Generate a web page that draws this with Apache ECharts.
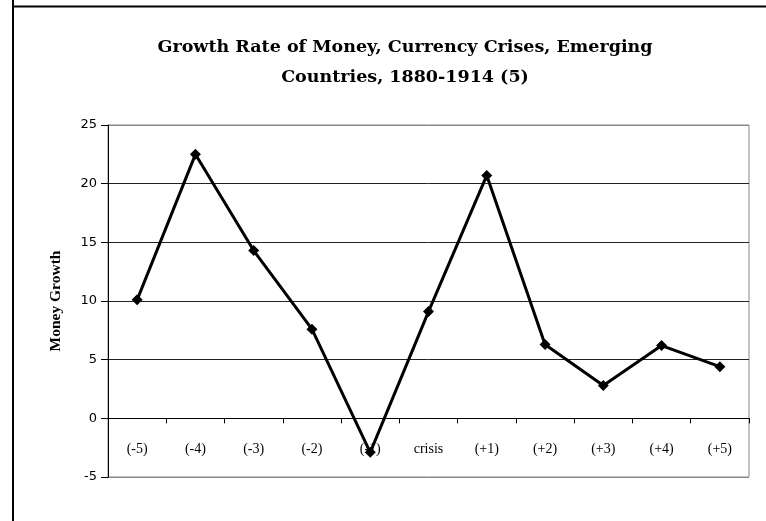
<!DOCTYPE html>
<html>
<head>
<meta charset="utf-8">
<script src="https://cdn.jsdelivr.net/npm/echarts@6/dist/echarts.min.js"></script>
<style>
  html, body { margin: 0; padding: 0; background: #fff; }
  #chart { width: 766px; height: 521px; }
</style>
</head>
<body>
<div id="chart"></div>
<script>
// 货币增长率：危机前后各 5 年
const CATEGORIES = ['(-5)', '(-4)', '(-3)', '(-2)', '(-1)', 'crisis', '(+1)', '(+2)', '(+3)', '(+4)', '(+5)'];
const MONEY_GROWTH = [10.1, 22.5, 14.3, 7.6, -2.9, 9.1, 20.7, 6.3, 2.8, 6.2, 4.4];
const Y_MIN = -5, Y_MAX = 25, Y_STEP = 5;
const TITLE_LINES = ['Growth Rate of Money, Currency Crises, Emerging', 'Countries, 1880-1914 (5)'];

const chart = echarts.init(document.getElementById('chart'), null, { renderer: 'canvas' });

// 网格线：上下边框灰色，中间黑色
const splitColors = ['#888', '#000', '#222', '#222', '#222', '#222', '#888'];

const option = {
  animation: false,
  backgroundColor: '#fff',
  title: {
    text: TITLE_LINES.join('\n'),
    left: 400,
    textAlign: 'center',
    top: 27,
    textStyle: {
      fontFamily: 'DejaVu Serif',
      fontWeight: 'bold',
      fontSize: 17.5,
      lineHeight: 30,
      color: '#000'
    }
  },
  grid: { left: 108, right: 17, top: 125, bottom: 44, show: true, borderColor: '#888', borderWidth: 1 },
  xAxis: {
    type: 'category',
    data: CATEGORIES,
    boundaryGap: true,
    axisLine: { onZero: true, lineStyle: { color: '#000', width: 1 } },
    axisTick: { show: true, length: 5, lineStyle: { color: '#000' } },
    axisLabel: {
      // 标签跟随零线，而不是网格底边
      margin: -35,
      fontFamily: 'Liberation Serif',
      fontSize: 14,
      color: '#000'
    },
    splitLine: { show: false }
  },
  yAxis: {
    type: 'value',
    min: Y_MIN,
    max: Y_MAX,
    interval: Y_STEP,
    name: 'Money Growth',
    nameLocation: 'middle',
    nameGap: 44,
    nameTextStyle: {
      fontFamily: 'Liberation Serif',
      fontWeight: 'bold',
      fontSize: 15.5,
      color: '#000'
    },
    axisLine: { show: true, lineStyle: { color: '#000', width: 1 } },
    axisTick: { show: true, length: 7, lineStyle: { color: '#000' } },
    axisLabel: {
      margin: 11,
      fontFamily: 'DejaVu Sans',
      fontSize: 13,
      color: '#000'
    },
    splitLine: { show: true, lineStyle: { color: splitColors, width: 1 } }
  },
  series: [{
    type: 'line',
    data: MONEY_GROWTH,
    symbol: 'diamond',
    symbolSize: 11,
    lineStyle: { color: '#000', width: 3 },
    itemStyle: { color: '#000' },
    z: 5
  }],
  graphic: [
    { type: 'line', shape: { x1: 13, y1: 0, x2: 13, y2: 521 }, style: { stroke: '#000', lineWidth: 2 } },
    { type: 'line', shape: { x1: 13, y1: 6.5, x2: 766, y2: 6.5 }, style: { stroke: '#000', lineWidth: 2 } }
  ]
};

chart.setOption(option);
</script>
</body>
</html>
